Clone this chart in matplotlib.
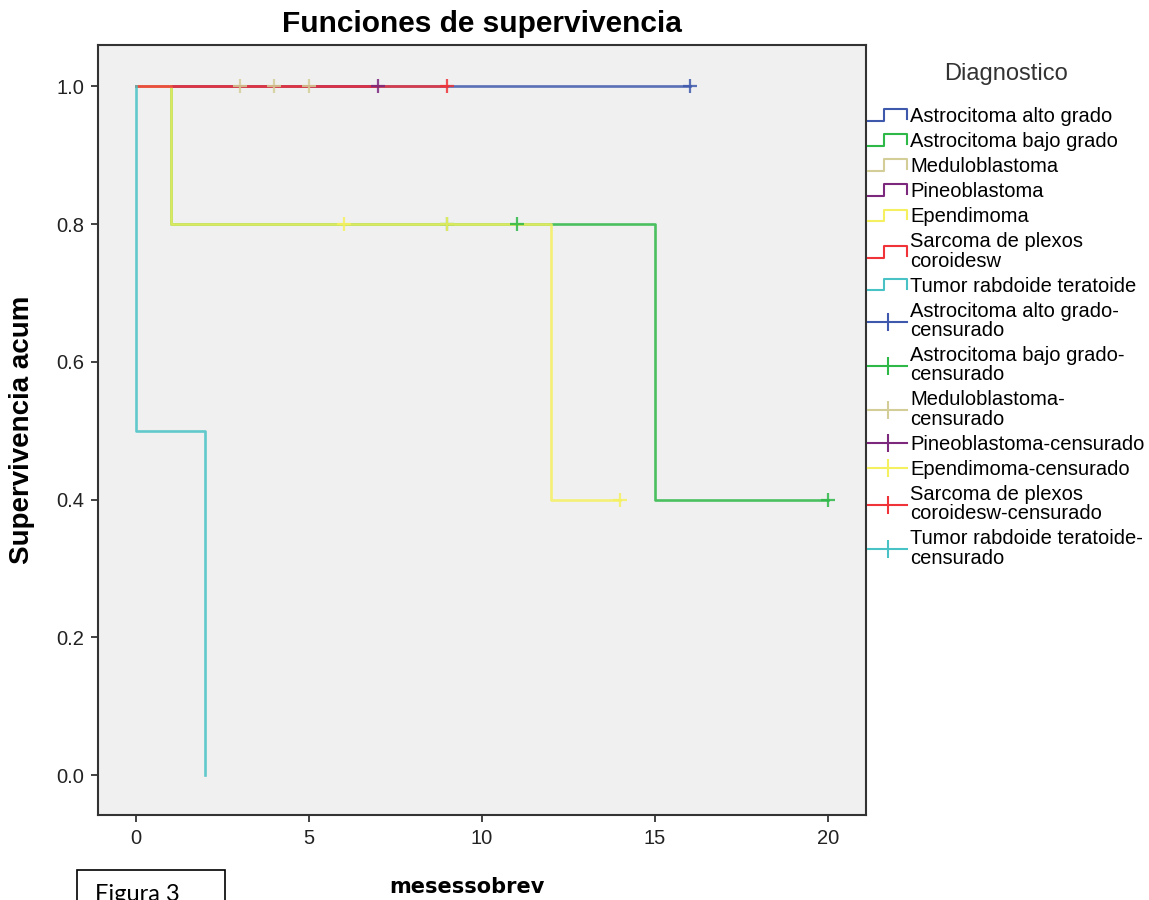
import numpy as np
import matplotlib
matplotlib.use('Agg')
import matplotlib.pyplot as plt
from matplotlib.lines import Line2D
from matplotlib.legend_handler import HandlerBase
from matplotlib.patches import Rectangle

plt.rcParams['font.family'] = ['Liberation Sans', 'DejaVu Sans']

# Curvas de Kaplan-Meier por diagnostico (tiempos de evento y supervivencia)
grupos = ['Astrocitoma alto grado', 'Astrocitoma bajo grado', 'Meduloblastoma',
          'Pineoblastoma', 'Ependimoma', 'Sarcoma de plexos\ncoroidesw',
          'Tumor rabdoide teratoide']
etiquetas_cens = ['Astrocitoma alto grado-\ncensurado', 'Astrocitoma bajo grado-\ncensurado',
                  'Meduloblastoma-\ncensurado', 'Pineoblastoma-censurado',
                  'Ependimoma-censurado', 'Sarcoma de plexos\ncoroidesw-censurado',
                  'Tumor rabdoide teratoide-\ncensurado']
colores = ['#3E58AC', '#2EB848', '#D3CE97', '#7C287D', '#F5F060', '#EF3338', '#48C2C5']

t_alto = [0, 16]
s_alto = [1.0, 1.0]
c_alto = [16]

t_bajo = [0, 1, 15, 20]
s_bajo = [1.0, 0.8, 0.4, 0.4]
c_bajo = [9, 11, 20]

t_medulo = [0, 5]
s_medulo = [1.0, 1.0]
c_medulo = [3, 4, 5]

t_pineo = [0, 7]
s_pineo = [1.0, 1.0]
c_pineo = [7]

t_epend = [0, 1, 12, 14]
s_epend = [1.0, 0.8, 0.4, 0.4]
c_epend = [6, 9, 14]

t_sarcoma = [0, 9]
s_sarcoma = [1.0, 1.0]
c_sarcoma = [9]

t_rabdo = [0, 0, 2]
s_rabdo = [1.0, 0.5, 0.0]
c_rabdo = []

curvas = [(t_alto, s_alto, c_alto), (t_bajo, s_bajo, c_bajo),
          (t_medulo, s_medulo, c_medulo), (t_pineo, s_pineo, c_pineo),
          (t_epend, s_epend, c_epend), (t_sarcoma, s_sarcoma, c_sarcoma),
          (t_rabdo, s_rabdo, c_rabdo)]


def surv_en(t, s, x):
    i = np.searchsorted(t, x, side='right') - 1
    return np.asarray(s)[i]


class HandlerEscalon(HandlerBase):
    def create_artists(self, legend, orig_handle, xdescent, ydescent,
                       width, height, fontsize, trans):
        x0 = -xdescent
        y0 = -ydescent
        xs = [x0, x0 + 0.42 * width, x0 + 0.42 * width, x0 + width, x0 + width]
        ys = [y0 + 0.05 * height, y0 + 0.05 * height, y0 + 0.95 * height,
              y0 + 0.95 * height, y0 + 0.2 * height]
        ln = Line2D(xs, ys, color=orig_handle.get_color(), lw=1.5)
        ln.set_transform(trans)
        return [ln]


fig = plt.figure(figsize=(11.49, 9), dpi=100)
ax = fig.add_axes([98 / 1149, 1 - 815 / 900, 768 / 1149, 770 / 900])
ax.set_facecolor('#F0F0F0')

for (t, s, c), col in zip(curvas, colores):
    ax.step(t, s, where='post', color=col, lw=1.9, alpha=0.85)

for (t, s, c), col in zip(curvas, colores):
    if len(c):
        ax.plot(c, surv_en(t, s, c), linestyle='none', marker='+',
                markersize=10, mew=1.6, color=col, alpha=0.85)

ax.set_xlim(-1.1, 21.1)
ax.set_ylim(-0.058, 1.06)
ax.set_xticks([0, 5, 10, 15, 20])
ax.set_yticks([0.0, 0.2, 0.4, 0.6, 0.8, 1.0])
ax.set_yticklabels(['0.0', '0.2', '0.4', '0.6', '0.8', '1.0'])
ax.tick_params(direction='out', length=5, width=1.2, colors='#222222',
               labelsize=14.5, pad=5)
for sp in ax.spines.values():
    sp.set_color('#333333')
    sp.set_linewidth(1.5)

ax.set_title('Funciones de supervivencia', fontsize=21.5, fontweight='bold', pad=9)
ax.set_ylabel('Supervivencia acum', fontsize=20, fontweight='bold', labelpad=15)
fig.text(467 / 1149, 1 - 887 / 900, 'mesessobrev', fontsize=15, fontweight='bold',
         family='DejaVu Sans', ha='center', va='center')

# leyenda: escalones para las curvas y cruces para los censurados
h_esc = [Line2D([], [], color=col) for col in colores]
h_cens = [Line2D([], [], color=col, lw=1.5, marker='|', markersize=13, mew=1.5)
          for col in colores]
mapa = {h: HandlerEscalon() for h in h_esc}
leg = fig.legend(h_esc + h_cens, grupos + etiquetas_cens, handler_map=mapa,
                 loc='upper left', bbox_to_anchor=(868 / 1149, 1 - 63 / 900),
                 frameon=False, fontsize=14.5, title='Diagnostico',
                 title_fontsize=17, handlelength=1.95, handleheight=0.6,
                 handletextpad=0.15, labelspacing=0.3, borderpad=0.0,
                 borderaxespad=0.0)
leg.get_title().set_color('#333333')
for txt in leg.get_texts():
    txt.set_linespacing(1.02)
leg._legend_box.sep = 16

# recuadro del pie de figura
fig.add_artist(Rectangle((77 / 1149, -0.05), 148 / 1149, 30 / 900 + 0.05,
                         transform=fig.transFigure, facecolor='white',
                         edgecolor='black', lw=1.2))
fig.text(95 / 1149, 1 - 884 / 900, 'Figura 3', fontsize=17, family='Lato',
         ha='left', va='top')

fig.savefig('out.png', dpi=100)
